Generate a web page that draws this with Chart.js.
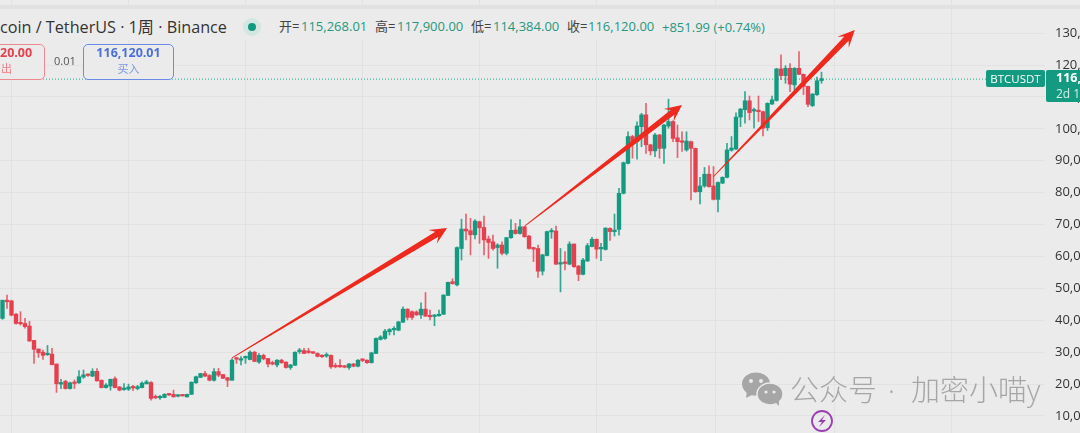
<!DOCTYPE html>
<html>
<head>
<meta charset="utf-8">
<script src="https://cdn.jsdelivr.net/npm/chart.js@4"></script>
<style>
  html, body { margin: 0; padding: 0; background: #ebebeb; }
  #stage { position: relative; width: 1080px; height: 433px; overflow: hidden; background: #ebebeb;
    font-family: "Open Sans", "Noto Sans CJK SC", sans-serif; filter: blur(0.45px); }
  #graph { position: absolute; left: 0; top: 0; }
  .t { position: absolute; white-space: nowrap; line-height: 1; }
  .lab { color: #444; font-size: 13px; }
  .val { color: #27977f; font-size: 13px; }
  .box { position: absolute; box-sizing: border-box; }
  .mark { font-size: 29px; font-weight: 300; color: #a6a6a6; top: 375px; }
</style>
</head>
<body>
<div id="stage">
  <canvas id="graph" width="1080" height="433"></canvas>

  <div class="box" style="left:0;top:9px;width:768px;height:31px;background:#ebebeb"></div>
  <div class="box" style="left:0;top:5px;width:1080px;height:4px;background:#e1e1e1"></div>

  <div class="t" style="left:0;top:19px;font-size:16.2px;color:#333">coin / TetherUS · 1周 · Binance</div>
  <div class="box" style="left:243px;top:18px;width:18px;height:18px;border-radius:50%;background:#d4e6e1"></div>
  <div class="box" style="left:248px;top:23px;width:8px;height:8px;border-radius:50%;background:#0f9a80"></div>

  <div class="t lab" style="left:279px;top:20px">开=</div>
  <div class="t val" style="left:301px;top:20px">115,268.01</div>
  <div class="t lab" style="left:375px;top:20px">高=</div>
  <div class="t val" style="left:397px;top:20px">117,900.00</div>
  <div class="t lab" style="left:471px;top:20px">低=</div>
  <div class="t val" style="left:493px;top:20px">114,384.00</div>
  <div class="t lab" style="left:567px;top:20px">收=</div>
  <div class="t val" style="left:588px;top:20px">116,120.00</div>
  <div class="t val" style="left:662px;top:21px">+851.99 (+0.74%)</div>

  <div class="box" style="left:-40px;top:44px;width:85px;height:36px;border:1.5px solid #ec8a90;border-radius:5px;background:#ebebeb"></div>
  <div class="t" style="left:0;top:47px;font-size:12.5px;font-weight:700;color:#e5404d">20.00</div>
  <div class="t" style="left:1px;top:63px;font-size:11px;color:#ec7d85">出</div>
  <div class="t" style="left:54px;top:55px;font-size:11px;color:#555">0.01</div>
  <div class="box" style="left:83px;top:44px;width:91px;height:36px;border:1.5px solid #6a8ce8;border-radius:5px;background:#ebebeb"></div>
  <div class="t" style="left:83px;width:91px;text-align:center;top:47px;font-size:12.5px;font-weight:700;color:#4a6fd6">116,120.01</div>
  <div class="t" style="left:83px;width:91px;text-align:center;top:63px;font-size:11px;color:#7a95e2">买入</div>

  <div class="box" style="left:986px;top:70px;width:59px;height:17px;background:#149a80;border-radius:2px"></div>
  <div class="t" style="left:986px;width:59px;text-align:center;top:73px;font-size:11.5px;color:#fff">BTCUSDT</div>
  <div class="box" style="left:1046px;top:70px;width:34px;height:32px;background:#149a80;border-radius:2px 0 0 2px"></div>
  <div class="t" style="left:1056px;top:72px;font-size:12.5px;font-weight:700;color:#fff">116,120.00</div>
  <div class="t" style="left:1056px;top:88px;font-size:12px;color:#d6efe9">2d 1</div>

  <svg class="box" style="left:0;top:0" width="1080" height="433">
    <ellipse cx="756" cy="384" rx="14" ry="11.5" fill="#a6a6a6"/>
    <path d="M747 391 L746 398 L754 394 Z" fill="#a6a6a6"/>
    <circle cx="751" cy="381" r="2" fill="#ebebeb"/>
    <circle cx="761" cy="381" r="2" fill="#ebebeb"/>
    <ellipse cx="770" cy="394" rx="13" ry="11" fill="#a6a6a6" stroke="#ebebeb" stroke-width="1.5"/>
    <path d="M775 402 L779 406 L779 399 Z" fill="#a6a6a6"/>
    <circle cx="766" cy="392" r="1.6" fill="#ebebeb"/>
    <circle cx="774" cy="392" r="1.6" fill="#ebebeb"/>
    <circle cx="822" cy="421" r="10" fill="none" stroke="#9a3fb0" stroke-width="1.8"/>
    <path d="M825 415 L818 422 L822 422 L819 427 L826 420 L822 420 Z" fill="#9a3fb0"/>
  </svg>
  <div class="t mark" style="left:790px">公众号</div>
  <div class="t mark" style="left:888px">·</div>
  <div class="t mark" style="left:911px">加密小喵y</div>
</div>

<script>
// weekly candles, prices in thousands of USDT
const opens = [
  40.6,46.3,46.1,41.9,39.2,39.0,38.2,33.7,31.0,30.0,29.2,29.4,26.3,20.0,20.9,18.6,20.6,20.4,22.2,23.0,
  22.5,24.0,21.2,18.9,19.4,21.7,19.1,18.3,18.4,19.0,18.6,18.9,20.1,20.5,16.0,15.7,15.8,16.9,16.8,16.2,
  16.5,16.0,16.8,20.4,22.1,23.3,22.7,21.2,23.9,23.0,22.0,21.2,28.2,27.5,28.2,27.7,30.0,26.9,29.0,28.0,
  26.7,26.0,27.5,26.9,25.2,25.9,30.2,30.5,30.3,29.9,29.6,29.0,28.8,29.0,25.8,25.7,25.6,25.2,26.3,25.6,
  27.7,27.5,26.7,29.6,34.0,34.3,36.4,37.0,36.9,39.4,43.5,42.7,42.6,41.7,43.5,41.4,41.2,41.4,41.9,47.8,
  52.1,51.1,62.5,68.6,68.1,66.8,70.9,69.1,65.5,64.6,62.8,63.6,61.0,65.9,68.3,67.2,69.3,66.4,62.8,62.5,
  55.4,60.3,67.7,68.0,57.6,58.3,57.6,63.9,57.0,54.4,58.6,63.1,65.4,62.4,62.2,68.8,67.8,68.5,79.8,89.2,
  97.6,96.0,100.7,104.4,95.0,93.1,98.1,93.9,100.9,102.3,97.2,96.0,93.4,96.0,93.9,80.3,82.1,85.8,82.1,77.9,
  83.0,84.8,93.3,93.7,103.7,106.0,108.8,105.6,105.6,105.4,100.4,107.8,108.9,118.8,116.7,119.0,113.8,119.0,117.1,113.3,
  107.3,110.7,115.15
];
const highs = [
  46.3,47.9,46.3,42.2,42.7,40.6,39.7,33.7,31.0,30.7,32.1,31.2,26.3,21.5,21.2,20.6,21.3,24.2,24.4,23.2,
  24.8,24.9,21.3,20.2,21.6,22.3,19.3,20.2,20.0,19.6,19.6,20.7,21.2,20.8,16.6,16.5,17.0,17.0,18.1,16.7,
  16.6,16.9,20.7,22.5,23.4,24.0,23.0,24.9,24.9,23.1,22.1,28.0,28.4,28.6,28.8,30.4,30.3,29.6,29.4,28.1,
  27.2,27.7,27.8,27.0,26.2,30.1,31.2,31.2,31.2,30.0,29.8,29.2,29.8,29.2,26.5,27.7,25.8,26.5,26.5,27.7,
  28.0,27.6,30.0,34.5,35.2,37.2,37.4,38.0,39.7,44.2,43.6,43.0,43.0,45.5,48.7,43.2,41.8,43.2,48.0,52.0,
  53.0,63.0,71.7,73.3,72.0,71.6,71.1,72.7,66.4,66.7,64.0,64.6,66.0,71.6,70.4,71.6,69.5,66.6,62.9,63.6,
  60.7,68.0,68.8,69.5,62.5,61.5,64.6,64.0,57.2,59.4,64.1,66.0,65.5,64.1,69.0,69.0,73.3,81.4,89.6,99.1,
  98.0,102.2,104.9,108.0,95.2,98.6,98.3,101.4,109.3,102.5,101.2,99.1,99.1,96.2,94.0,84.8,87.9,88.4,88.2,83.4,
  85.0,95.5,97.6,105.0,106.4,111.7,110.3,106.5,110.3,105.6,108.2,110.3,119.0,123.2,119.8,120.5,119.2,124.2,117.2,113.4,
  111.1,116.2,117.8
];
const lows = [
  40.3,43.7,41.4,38.8,38.5,37.5,33.4,26.5,28.4,27.7,29.0,26.0,17.4,18.6,18.4,18.4,18.6,20.2,21.8,22.4,
  22.3,20.9,18.8,18.7,18.1,18.8,17.9,18.0,18.0,17.9,18.2,18.8,20.0,15.0,15.4,15.2,15.7,16.4,15.9,16.0,
  16.2,15.9,16.7,20.2,22.0,22.3,21.0,20.9,22.3,21.7,19.2,21.2,26.5,26.0,26.5,27.6,27.0,26.5,27.6,25.4,
  26.0,25.4,26.5,25.0,24.6,25.8,29.6,29.5,29.6,29.5,28.5,28.3,28.4,24.9,25.1,25.2,25.1,24.6,25.4,25.4,
  27.0,26.5,26.6,29.5,33.8,34.0,35.4,35.4,36.7,39.3,40.1,40.3,41.5,40.6,41.2,40.1,38.3,41.3,41.8,47.7,
  51.3,50.8,58.9,65.2,60.5,65.5,64.1,60.5,59.4,62.0,56.3,60.5,60.5,65.7,67.0,67.0,66.0,62.3,58.4,53.4,
  54.2,60.2,65.7,57.4,48.9,55.8,57.4,56.6,52.4,54.2,58.4,63.0,59.4,58.7,62.0,65.0,66.4,66.7,79.6,89.0,
  90.8,90.5,94.4,92.3,91.8,91.3,90.8,89.2,100.2,96.0,91.0,92.9,93.0,77.7,80.1,76.5,81.7,81.7,77.7,74.0,
  82.8,84.6,93.0,93.5,100.7,101.8,102.8,100.2,102.3,97.8,99.5,107.6,108.7,115.4,114.3,111.7,112.2,117.0,110.7,107.0,
  107.0,110.5,114.3
];
const closes = [
  46.3,45.8,41.6,39.0,38.9,38.0,33.5,30.9,29.8,29.0,29.3,26.1,20.1,20.5,18.6,20.4,20.2,22.3,22.9,22.7,
  24.0,21.0,18.9,19.7,21.5,18.9,18.1,18.6,19.1,18.8,19.2,20.3,20.7,15.5,15.7,16.0,16.8,16.6,16.0,16.5,
  16.3,16.8,20.6,22.3,23.3,22.5,21.2,23.9,22.8,21.8,21.2,27.5,27.8,27.8,28.4,30.0,27.1,29.0,27.9,26.3,
  26.3,27.5,26.7,25.2,26.0,30.0,30.4,29.6,29.9,29.7,28.7,28.6,29.0,25.4,25.4,25.4,25.3,26.3,25.6,27.5,
  27.4,26.7,29.8,34.3,34.8,36.6,37.1,37.2,39.5,43.5,40.9,40.9,41.7,43.5,41.3,41.1,41.6,41.9,47.9,51.9,
  51.5,62.8,68.6,68.0,66.8,71.1,69.0,65.2,64.4,62.5,63.6,61.0,65.9,68.2,67.2,69.3,66.2,62.5,62.3,55.4,
  60.5,67.8,68.0,57.6,58.1,57.8,63.9,56.8,54.4,58.9,63.4,65.4,62.3,62.7,68.9,67.8,68.3,79.8,89.4,97.6,
  96.0,100.9,104.4,95.0,93.1,98.1,93.9,101.2,102.3,97.0,96.0,95.8,96.2,93.9,80.3,82.1,85.8,81.9,77.9,83.2,
  84.8,93.4,94.0,103.7,106.2,108.8,105.1,105.9,105.4,100.2,108.0,109.1,118.8,116.7,119.0,114.0,119.0,117.1,113.3,107.7,
  110.9,115.1,115.75
];

// dotted last-price line, as it sits in the picture
const lastPrice = 115.6;
const yTicks = [10, 20, 30, 40, 50, 60, 70, 80, 90, 100, 110, 120, 130];
const xTicks = [15, 41, 67, 93, 119, 145, 172, 198, 224];

// hand-drawn arrows in [candle index, price]
const arrowFrom = [[51, 28.2], [116.1, 69.6], [157.9, 84.9]];
const arrowTo = [[98.8, 68.9], [151, 107.5], [189.4, 131]];

const GREEN = "#149a80";
const RED = "#e5404f";

const candleColors = closes.map((c, i) => (c >= opens[i] ? GREEN : RED));
const wickColors = closes.map((c, i) => (c >= opens[i] ? "rgba(20,154,128,0.85)" : "rgba(229,64,79,0.8)"));

const arrowPlugin = {
  id: "arrows",
  afterDatasetsDraw(chart) {
    const { ctx, scales } = chart;
    arrowFrom.forEach((from, i) => {
      const x0 = scales.x.getPixelForValue(from[0]);
      const y0 = scales.y.getPixelForValue(from[1] * 1000);
      const x1 = scales.x.getPixelForValue(arrowTo[i][0]);
      const y1 = scales.y.getPixelForValue(arrowTo[i][1] * 1000);
      const a = Math.atan2(y1 - y0, x1 - x0);
      const len = Math.hypot(x1 - x0, y1 - y0);

      ctx.save();
      ctx.translate(x0, y0);
      ctx.rotate(a);
      ctx.fillStyle = "#ee2a1f";
      ctx.beginPath();
      ctx.moveTo(0, -0.4);
      ctx.lineTo(len - 12, -3);
      ctx.lineTo(len - 17, -8);
      ctx.lineTo(len, 0);
      ctx.lineTo(len - 17, 8);
      ctx.lineTo(len - 12, 3);
      ctx.lineTo(0, 0.4);
      ctx.closePath();
      ctx.fill();
      ctx.restore();
    });
  }
};

function init() {
  const ctx = document.getElementById("graph").getContext("2d");

  const config = {
    data: {
      datasets: [
        {
          type: "line",
          data: [{ x: -1, y: lastPrice * 1000 }, { x: 232, y: lastPrice * 1000 }],
          borderColor: "#1fae92",
          borderWidth: 1,
          borderDash: [1, 2],
          pointRadius: 0,
          order: 3
        },
        {
          type: "bar",
          data: lows.map((l, i) => ({ x: i, y: [l * 1000, highs[i] * 1000] })),
          backgroundColor: wickColors,
          barThickness: 1,
          grouped: false,
          order: 2
        },
        {
          type: "bar",
          data: opens.map((o, i) => ({ x: i, y: [o * 1000, closes[i] * 1000] })),
          backgroundColor: candleColors,
          barThickness: 3.7,
          minBarLength: 1.5,
          grouped: false,
          order: 1
        }
      ]
    },
    options: {
      responsive: false,
      animation: false,
      events: [],
      layout: { padding: 0 },
      plugins: { legend: { display: false }, tooltip: { enabled: false } },
      scales: {
        x: {
          type: "linear",
          offset: false,
          min: -0.556,
          max: 231.667,
          afterBuildTicks: (scale) => { scale.ticks = xTicks.map((v) => ({ value: v })); },
          grid: { color: "#e2e2e2", drawTicks: false },
          border: { display: false },
          ticks: { display: false, autoSkip: false }
        },
        y: {
          position: "right",
          min: 4670,
          max: 140400,
          afterBuildTicks: (scale) => { scale.ticks = yTicks.map((v) => ({ value: v * 1000 })); },
          afterFit: (scale) => {
            scale.width = 35;
            scale.paddingTop = 0;
            scale.paddingBottom = 0;
          },
          grid: { color: "#e2e2e2", drawTicks: false },
          border: { display: false },
          ticks: {
            autoSkip: false,
            padding: 10,
            color: "#333",
            font: { family: "'Open Sans'", size: 13 },
            callback: (v) => v.toLocaleString("en-US")
          }
        }
      }
    },
    plugins: [arrowPlugin]
  };

  return new Chart(ctx, config);
}

window.onload = function () {
  init();
};
</script>
</body>
</html>
